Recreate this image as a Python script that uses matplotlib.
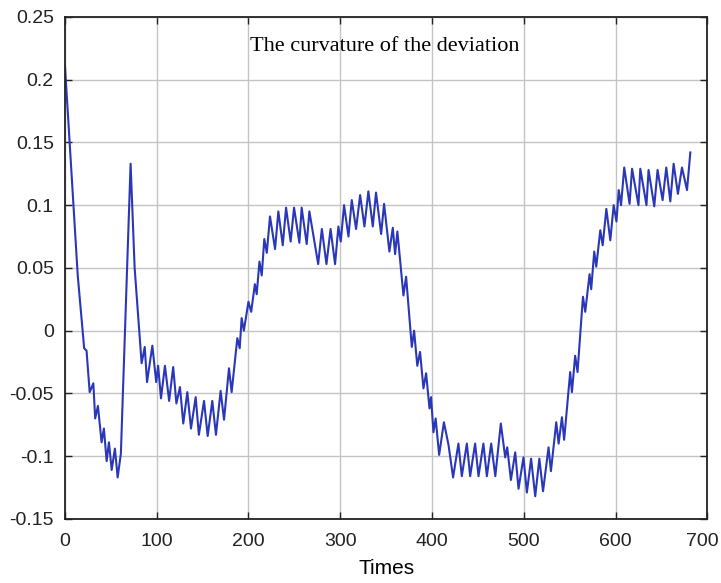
import matplotlib
matplotlib.use('Agg')
import matplotlib.pyplot as plt
import matplotlib.transforms as mtransforms

# zig-zag vertices of the deviation curvature (time step, value)
times = [0, 14, 21, 23.6, 27, 31, 33, 36, 40, 42.5, 45.5, 48, 51, 54.5, 57.5, 61,
         71.6, 76, 83.6, 87, 89.5, 95.3, 99.5, 101.6, 104.7, 109, 113.6, 118, 121.5,
         125.4, 129, 133.4, 137.4, 142.5, 146, 151.6, 155.6, 160.6, 164.6, 169.7,
         173.4, 178.8, 181.7, 187.9, 190.5, 192.6, 195, 200, 203, 207, 209, 212,
         214.5, 217.3, 220, 223.5, 229, 232.6, 237.4, 241, 246, 249.7, 255.5, 258,
         263.5, 266.4, 276, 280, 285, 289.5, 294.4, 298, 300.6, 304.2, 309, 312.6,
         317.3, 321.7, 326.4, 330.7, 335.5, 339, 344.6, 347.8, 353.6, 357.3, 359.8,
         362.3, 368.9, 371.8, 378, 380.5, 384, 387, 390.7, 393.6, 397.3, 399, 401.6,
         404, 407.8, 413, 418, 423, 428.8, 432.5, 438, 441.6, 447, 450.7, 456, 459.8,
         464.5, 469, 475, 479.8, 482, 486, 490.7, 494.3, 499.7, 503.4, 508, 512.5,
         517, 521, 527, 529.6, 535.4, 538, 541.6, 544, 550.6, 552.5, 556, 558.6,
         564.5, 567, 571.7, 573.5, 576.8, 579, 583.4, 586, 590, 594.3, 598, 601,
         603.5, 606, 609.5, 615.3, 618, 625, 627, 633.7, 636, 642.2, 645.8, 651.3,
         655.3, 659.7, 663.3, 668, 672.4, 677.9, 681.5]
curvature = [0.212, 0.044, -0.014, -0.016, -0.049, -0.042, -0.070, -0.060, -0.089,
             -0.078, -0.104, -0.089, -0.111, -0.094, -0.117, -0.098,
             0.133, 0.050, -0.026, -0.013, -0.041, -0.012, -0.041, -0.028, -0.054,
             -0.028, -0.056, -0.029, -0.058, -0.045, -0.074, -0.049, -0.078, -0.053,
             -0.083, -0.056, -0.084, -0.056, -0.083, -0.048, -0.071, -0.030, -0.049,
             -0.006, -0.014, 0.010, 0.000, 0.023, 0.015, 0.037, 0.029, 0.055, 0.044,
             0.073, 0.062, 0.091, 0.065, 0.095, 0.068, 0.098, 0.071, 0.098, 0.070,
             0.098, 0.069, 0.095, 0.053, 0.081, 0.053, 0.081, 0.053, 0.083, 0.071,
             0.100, 0.075, 0.104, 0.081, 0.108, 0.083, 0.111, 0.083, 0.110, 0.077,
             0.101, 0.063, 0.082, 0.061, 0.079, 0.028, 0.043, -0.013, 0.000, -0.028,
             -0.017, -0.046, -0.034, -0.062, -0.053, -0.081, -0.070, -0.099, -0.073,
             -0.091, -0.117, -0.090, -0.116, -0.090, -0.116, -0.090, -0.116, -0.090,
             -0.116, -0.090, -0.116, -0.074, -0.101, -0.093, -0.119, -0.097, -0.126,
             -0.101, -0.129, -0.102, -0.132, -0.102, -0.128, -0.093, -0.112, -0.073,
             -0.090, -0.069, -0.087, -0.033, -0.049, -0.020, -0.033, 0.027, 0.015,
             0.045, 0.033, 0.063, 0.051, 0.080, 0.068, 0.097, 0.072, 0.100, 0.087,
             0.112, 0.100, 0.130, 0.101, 0.129, 0.100, 0.129, 0.100, 0.128, 0.099,
             0.128, 0.104, 0.130, 0.103, 0.133, 0.109, 0.130, 0.112, 0.142]

x_ticks = [0, 100, 200, 300, 400, 500, 600, 700]
y_ticks = [-0.15, -0.1, -0.05, 0, 0.05, 0.1, 0.15, 0.2, 0.25]
y_labels = ['-0.15', '-0.1', '-0.05', '0', '0.05', '0.1', '0.15', '0.2', '0.25']

plt.rcParams['font.family'] = ['Liberation Sans', 'DejaVu Sans']

fig = plt.figure(figsize=(7.21, 5.83), dpi=100, facecolor='white')
ax = fig.add_axes([0.090, 0.110, 0.891, 0.861])

ax.plot(times, curvature, color='#2a37b8', linewidth=1.5)

ax.set_xlim(0, 700)
ax.set_ylim(-0.15, 0.25)
ax.set_xticks(x_ticks)
ax.set_yticks(y_ticks)
ax.set_yticklabels(y_labels)
ax.tick_params(direction='in', length=5, width=1, labelsize=14,
               top=True, right=True, colors='#222222')
ax.tick_params(axis='x', pad=10)
ax.tick_params(axis='y', pad=8)
ax.grid(True, color='#c4c4c4', linewidth=1.0)
for s in ax.spines.values():
    s.set_linewidth(1.3)
    s.set_color('#222222')

# nudge the last x label so it stays inside the figure
last = ax.get_xticklabels()[-1]
last.set_transform(last.get_transform() +
                   mtransforms.ScaledTranslation(-5 / 100, 0, fig.dpi_scale_trans))

ax.set_xlabel('Times', fontsize=15, labelpad=7)
ax.text(0.498, 0.941, 'The curvature of the deviation', transform=ax.transAxes,
        ha='center', va='center', fontsize=16, family='Liberation Serif')

fig.savefig('out.png', dpi=100)
